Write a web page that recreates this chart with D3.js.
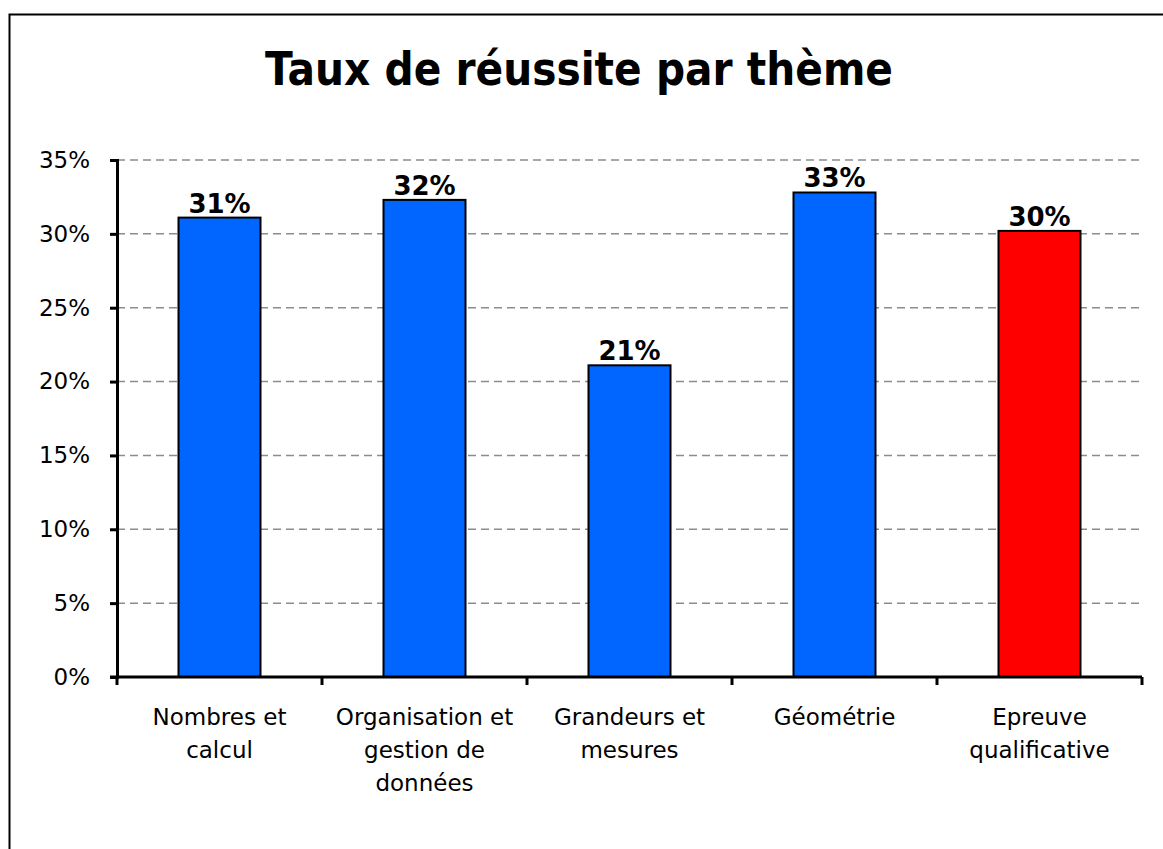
<!DOCTYPE html>
<html>
<head>
<meta charset="utf-8">
<style>
  body { margin: 0; background: #fff; }
  svg { display: block; font-family: Tahoma, "DejaVu Sans", sans-serif; }
</style>
</head>
<body>
<svg width="1163" height="849"></svg>
<script src="https://d3js.org/d3.v7.min.js"></script>
<script>
// données du graphique
var categories = [
  ["Nombres et", "calcul"],
  ["Organisation et", "gestion de", "données"],
  ["Grandeurs et", "mesures"],
  ["Géométrie"],
  ["Epreuve", "qualificative"]
];
var taux = [0.311, 0.323, 0.211, 0.328, 0.302];
var couleurs = ["#0066ff", "#0066ff", "#0066ff", "#0066ff", "#ff0000"];
var yTicks = [0, 0.05, 0.10, 0.15, 0.20, 0.25, 0.30, 0.35];
var titre = "Taux de réussite par thème";

var svg = d3.select("svg");

// cadre
svg.append("rect")
  .attr("x", 9.5).attr("y", 14.5)
  .attr("width", 1300).attr("height", 1000)
  .attr("fill", "none").attr("stroke", "#000").attr("stroke-width", 2);

svg.append("text")
  .attr("x", 579).attr("y", 85)
  .attr("text-anchor", "middle")
  .attr("font-weight", "bold")
  .attr("font-size", 46)
  .attr("textLength", 628)
  .attr("lengthAdjust", "spacingAndGlyphs")
  .text(titre);

var margin = { left: 117, top: 160, right: 21, bottom: 172 };
var width = 1163 - margin.left - margin.right;
var height = 849 - margin.top - margin.bottom;

var g = svg.append("g")
  .attr("transform", `translate(${margin.left}, ${margin.top})`);

var x = d3.scaleBand()
  .domain(d3.range(taux.length))
  .range([0, width])
  .paddingInner(0.6)
  .paddingOuter(0.3);

var y = d3.scaleLinear()
  .domain([0, 0.35])
  .range([height, 0]);

// grille
g.selectAll(".grid")
  .data(yTicks.filter(function (d) { return d > 0; }))
  .enter().append("line")
  .attr("x1", 0).attr("x2", width)
  .attr("y1", function (d) { return y(d); })
  .attr("y2", function (d) { return y(d); })
  .attr("stroke", "#8c8c8c")
  .attr("stroke-width", 1.5)
  .attr("stroke-dasharray", "8,5");

// barres
g.selectAll(".bar")
  .data(taux)
  .enter().append("rect")
  .attr("x", function (d, i) { return x(i); })
  .attr("y", function (d) { return y(d); })
  .attr("width", x.bandwidth())
  .attr("height", function (d) { return height - y(d); })
  .attr("fill", function (d, i) { return couleurs[i]; })
  .attr("stroke", "#000")
  .attr("stroke-width", 2);

// étiquettes
g.selectAll(".lbl")
  .data(taux)
  .enter().append("text")
  .attr("x", function (d, i) { return x(i) + x.bandwidth() / 2; })
  .attr("y", function (d) { return y(d) - 5; })
  .attr("text-anchor", "middle")
  .attr("font-weight", "bold")
  .attr("font-size", 26)
  .text(function (d) { return Math.round(d * 100) + "%"; });

// axe Y
var yAxis = g.append("g")
  .call(d3.axisLeft(y).tickValues(yTicks).tickFormat(d3.format(".0%")).tickSize(7).tickPadding(20));
yAxis.select(".domain").attr("stroke-width", 3);
yAxis.selectAll(".tick line").attr("stroke-width", 3);
yAxis.selectAll("text").attr("font-size", 23).attr("fill", "#000")
  .style("font-family", "Tahoma, 'DejaVu Sans', sans-serif");

// axe X
var xEdge = d3.scaleLinear().domain([0, taux.length]).range([0, width]);
var xa = g.append("g").attr("transform", `translate(0, ${height})`);
xa.append("line")
  .attr("x1", -7).attr("x2", width)
  .attr("stroke", "#000").attr("stroke-width", 3);
xa.selectAll(".tk")
  .data(d3.range(taux.length + 1))
  .enter().append("line")
  .attr("x1", function (d) { return xEdge(d); })
  .attr("x2", function (d) { return xEdge(d); })
  .attr("y1", 0).attr("y2", 8)
  .attr("stroke", "#000").attr("stroke-width", 3);

xa.selectAll(".cat")
  .data(categories)
  .enter().append("text")
  .attr("text-anchor", "middle")
  .attr("font-size", 23)
  .attr("transform", function (d, i) { return `translate(${x(i) + x.bandwidth() / 2}, 48)`; })
  .selectAll("tspan")
  .data(function (d) { return d; })
  .enter().append("tspan")
  .attr("x", 0)
  .attr("dy", function (d, i) { return i === 0 ? 0 : 33; })
  .text(function (d) { return d; });
</script>
</body>
</html>
